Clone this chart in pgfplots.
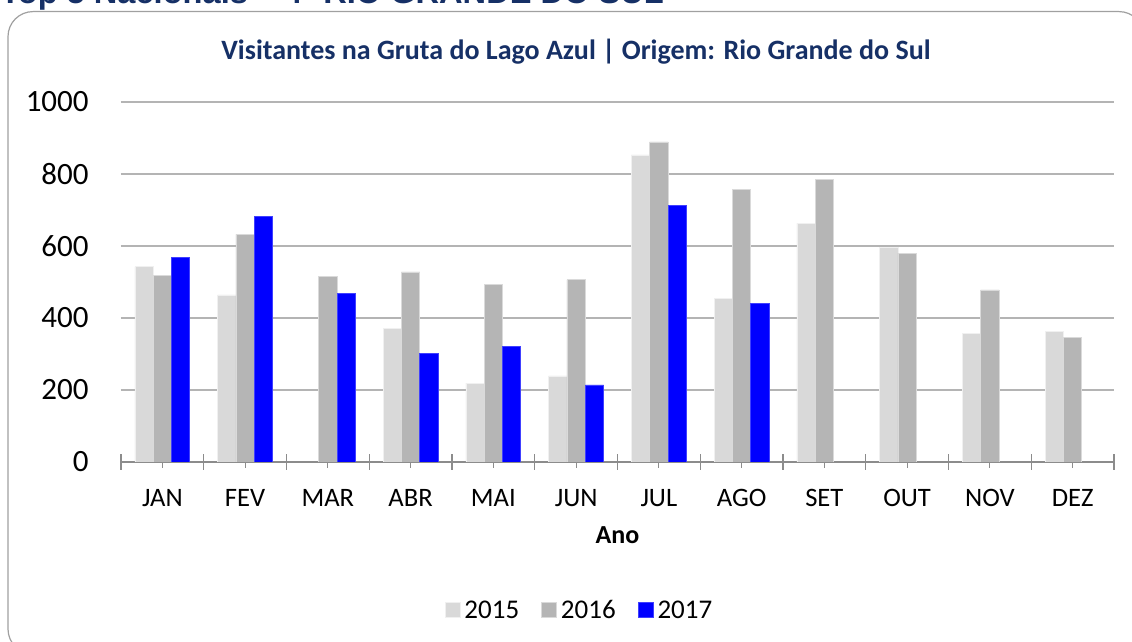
\documentclass[border=0pt]{standalone}
\usepackage{pgfplots}
\pgfplotsset{compat=1.18}
\usepackage{fontspec}
\setmainfont{Carlito}
\newfontfamily\arialf{Liberation Sans}
\definecolor{ttl}{RGB}{22,48,102}
\definecolor{cA}{RGB}{217,217,217}
\definecolor{cB}{RGB}{181,181,181}
\definecolor{cC}{RGB}{0,0,255}
\definecolor{gridc}{RGB}{180,180,180}
\definecolor{axc}{RGB}{140,140,140}
\definecolor{framec}{RGB}{160,160,160}
\begin{document}
\begin{tikzpicture}
\useasboundingbox (0pt,0pt) rectangle (566pt,321pt);
\fill[white] (0pt,0pt) rectangle (566pt,321pt);
\draw[framec, line width=0.6pt, rounded corners=12.5pt] (4pt,315.2pt) -- (572pt,315.2pt) -- (572pt,-6pt) -- (4pt,-6pt) -- cycle;
\node[anchor=base west, inner sep=0pt, text=ttl, font=\arialf\bfseries\fontsize{16.3}{19}\selectfont] at (0pt,319pt) {Top 5 Nacionais – 4º RIO GRANDE DO SUL};
\begin{axis}[
  at={(60.5pt,90pt)}, anchor=south west,
  width=496.5pt, height=180pt, scale only axis,
  xmin=-0.5, xmax=11.5, ymin=0, ymax=1000,
  axis lines*=left,
  y axis line style={draw=none},
  x axis line style={axc, line width=0.6pt},
  ytick={0,200,...,1000},
  ytick style={draw=none},
  ymajorgrids,
  grid style={gridc, line width=0.6pt},
  xtick={0,...,11},
  xticklabels={JAN,FEV,MAR,ABR,MAI,JUN,JUL,AGO,SET,OUT,NOV,DEZ},
  minor xtick={-0.5,0.5,...,11.5},
  tick align=center,
  major tick length=6pt, minor tick length=8pt,
  xtick style={axc, line width=0.6pt},
  /pgf/number format/assume math mode=true,
  /pgf/number format/set thousands separator={},
  yticklabel style={anchor=east, inner sep=0pt, xshift=-13pt, font=\fontsize{15.5}{18}\selectfont},
  xticklabel style={anchor=base, inner sep=0pt, yshift=-19.5pt, font=\fontsize{13.3}{16}\selectfont},
  xlabel={Ano},
  xlabel style={at={(axis description cs:0.5,0)}, anchor=base, inner sep=0pt, yshift=-41pt, font=\bfseries\fontsize{13}{16}\selectfont},
  title={Visitantes na Gruta do Lago Azul | Origem: Rio Grande do Sul},
  title style={at={(axis description cs:0.4582,1)}, anchor=base, inner sep=0pt, yshift=15pt, text=ttl, font=\bfseries\fontsize{14}{16}\selectfont},
  legend columns=3,
  legend style={draw=none, fill=none, at={(axis description cs:0.4627,-0.411)}, anchor=center,
    font=\fontsize{13.5}{16}\selectfont,
    /tikz/every even column/.append style={column sep=9pt},
    nodes={inner ysep=1.5pt, inner xsep=2pt, text depth=0pt, text height=9pt}},
  legend image code/.code={\fill[#1] (0pt,-3.75pt) rectangle (7.5pt,3.75pt);},
]
\addplot[ybar, bar width=0.221, bar shift=-0.221, fill=cA, draw=cA!40!white, line width=0.4pt] coordinates {
 (0,542) (1,464) (3,371) (4,219) (5,239) (6,853) (7,455) (8,663) (9,595) (10,357) (11,362)};
\addplot[ybar, bar width=0.221, bar shift=0, fill=cB, draw=cB!50!white, line width=0.4pt] coordinates {
 (0,519) (1,632) (2,515) (3,528) (4,493) (5,506) (6,889) (7,757) (8,786) (9,580) (10,478) (11,346)};
\addplot[ybar, bar width=0.221, bar shift=0.221, fill=cC, draw=cC!75!white, line width=0.4pt] coordinates {
 (0,568) (1,682) (2,469) (3,301) (4,320) (5,214) (6,712) (7,441)};
\legend{2015,2016,2017}
\end{axis}
\end{tikzpicture}
\end{document}
